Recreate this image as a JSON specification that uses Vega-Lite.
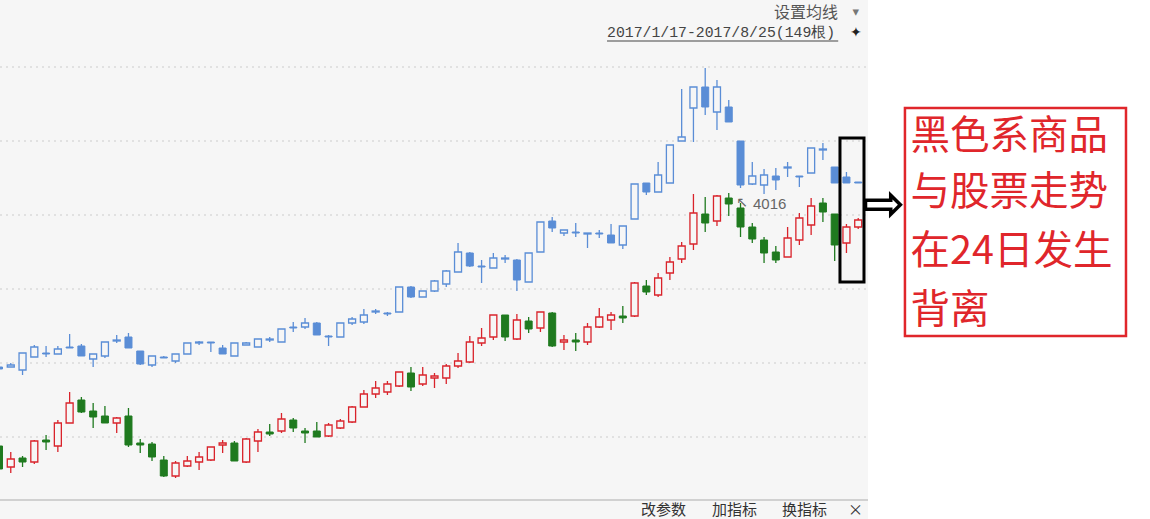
{
"$schema": "https://vega.github.io/schema/vega-lite/v6.json",
"width": 1150, "height": 519, "padding": 0, "autosize": {"type": "none"},
"background": "#ffffff",
"config": {"view": {"stroke": null}},
"datasets": {"k": [
{"i":0,"s":"B","d":"down","o":73,"h":75,"l":48,"c":50},
{"i":1,"s":"B","d":"up","o":52,"h":67,"l":46,"c":60},
{"i":2,"s":"B","d":"down","o":61,"h":63,"l":52,"c":57},
{"i":3,"s":"B","d":"up","o":57,"h":79,"l":55,"c":78},
{"i":4,"s":"B","d":"down","o":79,"h":84,"l":69,"c":77},
{"i":5,"s":"B","d":"up","o":73,"h":99,"l":67,"c":96},
{"i":6,"s":"B","d":"up","o":96,"h":127,"l":96,"c":116},
{"i":7,"s":"B","d":"down","o":119,"h":122,"l":106,"c":107},
{"i":8,"s":"B","d":"down","o":108,"h":116,"l":91,"c":102},
{"i":9,"s":"B","d":"down","o":103,"h":113,"l":96,"c":96},
{"i":10,"s":"B","d":"up","o":96,"h":102,"l":86,"c":101},
{"i":11,"s":"B","d":"down","o":103,"h":111,"l":72,"c":74},
{"i":12,"s":"B","d":"down","o":76,"h":80,"l":66,"c":74},
{"i":13,"s":"B","d":"down","o":75,"h":77,"l":58,"c":62},
{"i":14,"s":"B","d":"down","o":59,"h":63,"l":42,"c":43},
{"i":15,"s":"B","d":"up","o":43,"h":58,"l":41,"c":56},
{"i":16,"s":"B","d":"up","o":53,"h":63,"l":52,"c":58},
{"i":17,"s":"B","d":"up","o":57,"h":67,"l":49,"c":62},
{"i":18,"s":"B","d":"up","o":59,"h":72,"l":58,"c":72},
{"i":19,"s":"B","d":"up","o":74,"h":79,"l":66,"c":76},
{"i":20,"s":"B","d":"down","o":76,"h":78,"l":58,"c":58},
{"i":21,"s":"B","d":"up","o":57,"h":81,"l":56,"c":80},
{"i":22,"s":"B","d":"up","o":78,"h":90,"l":67,"c":87},
{"i":23,"s":"B","d":"down","o":87,"h":95,"l":83,"c":85},
{"i":24,"s":"B","d":"up","o":88,"h":106,"l":86,"c":100},
{"i":25,"s":"B","d":"down","o":99,"h":101,"l":87,"c":91},
{"i":26,"s":"B","d":"down","o":88,"h":91,"l":76,"c":86},
{"i":27,"s":"B","d":"down","o":88,"h":97,"l":82,"c":82},
{"i":28,"s":"B","d":"up","o":83,"h":96,"l":82,"c":94},
{"i":29,"s":"B","d":"up","o":91,"h":100,"l":90,"c":98},
{"i":30,"s":"B","d":"up","o":97,"h":113,"l":96,"c":112},
{"i":31,"s":"B","d":"up","o":112,"h":129,"l":112,"c":125},
{"i":32,"s":"B","d":"up","o":125,"h":138,"l":121,"c":131},
{"i":33,"s":"B","d":"up","o":127,"h":138,"l":124,"c":135},
{"i":34,"s":"B","d":"up","o":133,"h":147,"l":132,"c":147},
{"i":35,"s":"B","d":"down","o":146,"h":152,"l":128,"c":132},
{"i":36,"s":"B","d":"up","o":135,"h":152,"l":133,"c":144},
{"i":37,"s":"B","d":"up","o":141,"h":146,"l":131,"c":143},
{"i":38,"s":"B","d":"up","o":141,"h":155,"l":135,"c":153},
{"i":39,"s":"B","d":"up","o":153,"h":166,"l":151,"c":158},
{"i":40,"s":"B","d":"up","o":157,"h":183,"l":156,"c":177},
{"i":41,"s":"B","d":"up","o":176,"h":191,"l":173,"c":181},
{"i":42,"s":"B","d":"up","o":182,"h":204,"l":179,"c":204},
{"i":43,"s":"B","d":"down","o":204,"h":204,"l":178,"c":182},
{"i":44,"s":"B","d":"up","o":180,"h":205,"l":179,"c":199},
{"i":45,"s":"B","d":"down","o":198,"h":202,"l":186,"c":190},
{"i":46,"s":"B","d":"up","o":191,"h":207,"l":187,"c":207},
{"i":47,"s":"B","d":"down","o":206,"h":207,"l":172,"c":173},
{"i":48,"s":"B","d":"up","o":177,"h":184,"l":169,"c":179},
{"i":49,"s":"B","d":"down","o":179,"h":186,"l":168,"c":177},
{"i":50,"s":"B","d":"up","o":177,"h":196,"l":174,"c":192},
{"i":51,"s":"B","d":"up","o":192,"h":211,"l":191,"c":202},
{"i":52,"s":"B","d":"up","o":199,"h":207,"l":189,"c":204},
{"i":53,"s":"B","d":"down","o":203,"h":213,"l":196,"c":201},
{"i":54,"s":"B","d":"up","o":203,"h":237,"l":202,"c":236},
{"i":55,"s":"B","d":"down","o":233,"h":239,"l":224,"c":227},
{"i":56,"s":"B","d":"up","o":224,"h":246,"l":222,"c":241},
{"i":57,"s":"B","d":"up","o":246,"h":262,"l":239,"c":257},
{"i":58,"s":"B","d":"up","o":260,"h":277,"l":256,"c":273},
{"i":59,"s":"B","d":"up","o":275,"h":325,"l":269,"c":306},
{"i":60,"s":"B","d":"down","o":305,"h":322,"l":287,"c":296},
{"i":61,"s":"B","d":"up","o":298,"h":324,"l":293,"c":323},
{"i":62,"s":"B","d":"down","o":321,"h":326,"l":303,"c":315},
{"i":63,"s":"B","d":"down","o":311,"h":316,"l":282,"c":292},
{"i":64,"s":"B","d":"down","o":292,"h":296,"l":276,"c":280},
{"i":65,"s":"B","d":"down","o":279,"h":282,"l":256,"c":266},
{"i":66,"s":"B","d":"down","o":267,"h":273,"l":256,"c":259},
{"i":67,"s":"B","d":"up","o":262,"h":292,"l":262,"c":281},
{"i":68,"s":"B","d":"up","o":279,"h":306,"l":274,"c":301},
{"i":69,"s":"B","d":"up","o":294,"h":321,"l":284,"c":313},
{"i":70,"s":"B","d":"down","o":316,"h":321,"l":297,"c":307},
{"i":71,"s":"B","d":"down","o":305,"h":305,"l":258,"c":274},
{"i":72,"s":"B","d":"up","o":276,"h":295,"l":266,"c":292},
{"i":73,"s":"B","d":"up","o":292,"h":301,"l":290,"c":299},
{"i":0,"s":"A","d":"down","o":152,"h":154,"l":146,"c":150},
{"i":1,"s":"A","d":"up","o":152,"h":156,"l":152,"c":154},
{"i":2,"s":"A","d":"up","o":149,"h":166,"l":144,"c":166},
{"i":3,"s":"A","d":"up","o":162,"h":174,"l":162,"c":172},
{"i":4,"s":"A","d":"down","o":166,"h":173,"l":162,"c":165},
{"i":5,"s":"A","d":"up","o":165,"h":173,"l":165,"c":170},
{"i":6,"s":"A","d":"down","o":172,"h":185,"l":171,"c":171},
{"i":7,"s":"A","d":"down","o":173,"h":175,"l":163,"c":163},
{"i":8,"s":"A","d":"up","o":160,"h":165,"l":152,"c":165},
{"i":9,"s":"A","d":"up","o":163,"h":177,"l":161,"c":177},
{"i":10,"s":"A","d":"up","o":178,"h":184,"l":176,"c":179},
{"i":11,"s":"A","d":"down","o":182,"h":186,"l":171,"c":171},
{"i":12,"s":"A","d":"down","o":168,"h":168,"l":154,"c":155},
{"i":13,"s":"A","d":"up","o":154,"h":163,"l":152,"c":163},
{"i":14,"s":"A","d":"down","o":162,"h":163,"l":161,"c":161},
{"i":15,"s":"A","d":"up","o":158,"h":165,"l":156,"c":165},
{"i":16,"s":"A","d":"up","o":165,"h":176,"l":165,"c":176},
{"i":17,"s":"A","d":"up","o":176,"h":178,"l":174,"c":177},
{"i":18,"s":"A","d":"down","o":177,"h":177,"l":167,"c":176},
{"i":19,"s":"A","d":"down","o":171,"h":174,"l":165,"c":165},
{"i":20,"s":"A","d":"up","o":163,"h":176,"l":163,"c":176},
{"i":21,"s":"A","d":"up","o":174,"h":177,"l":174,"c":176},
{"i":22,"s":"A","d":"up","o":172,"h":180,"l":172,"c":180},
{"i":23,"s":"A","d":"up","o":179,"h":182,"l":177,"c":180},
{"i":24,"s":"A","d":"up","o":177,"h":190,"l":177,"c":190},
{"i":25,"s":"A","d":"down","o":192,"h":197,"l":187,"c":191},
{"i":26,"s":"A","d":"up","o":192,"h":201,"l":190,"c":196},
{"i":27,"s":"A","d":"down","o":196,"h":197,"l":184,"c":184},
{"i":28,"s":"A","d":"down","o":183,"h":184,"l":173,"c":182},
{"i":29,"s":"A","d":"up","o":182,"h":196,"l":182,"c":196},
{"i":30,"s":"A","d":"up","o":196,"h":202,"l":194,"c":200},
{"i":31,"s":"A","d":"up","o":197,"h":210,"l":195,"c":204},
{"i":32,"s":"A","d":"up","o":207,"h":210,"l":205,"c":208},
{"i":33,"s":"A","d":"down","o":206,"h":207,"l":203,"c":205},
{"i":34,"s":"A","d":"up","o":207,"h":232,"l":207,"c":232},
{"i":35,"s":"A","d":"down","o":232,"h":233,"l":221,"c":222},
{"i":36,"s":"A","d":"up","o":222,"h":228,"l":222,"c":228},
{"i":37,"s":"A","d":"up","o":228,"h":239,"l":227,"c":238},
{"i":38,"s":"A","d":"up","o":235,"h":249,"l":232,"c":248},
{"i":39,"s":"A","d":"up","o":247,"h":276,"l":247,"c":267},
{"i":40,"s":"A","d":"down","o":266,"h":267,"l":252,"c":253},
{"i":41,"s":"A","d":"down","o":253,"h":259,"l":236,"c":252},
{"i":42,"s":"A","d":"up","o":251,"h":266,"l":251,"c":261},
{"i":43,"s":"A","d":"up","o":260,"h":264,"l":256,"c":261},
{"i":44,"s":"A","d":"down","o":259,"h":260,"l":228,"c":239},
{"i":45,"s":"A","d":"up","o":237,"h":266,"l":237,"c":266},
{"i":46,"s":"A","d":"up","o":267,"h":297,"l":267,"c":297},
{"i":47,"s":"A","d":"down","o":298,"h":302,"l":287,"c":291},
{"i":48,"s":"A","d":"up","o":286,"h":289,"l":283,"c":289},
{"i":49,"s":"A","d":"down","o":287,"h":296,"l":282,"c":286},
{"i":50,"s":"A","d":"up","o":285,"h":286,"l":271,"c":286},
{"i":51,"s":"A","d":"down","o":286,"h":289,"l":281,"c":285},
{"i":52,"s":"A","d":"down","o":284,"h":295,"l":276,"c":276},
{"i":53,"s":"A","d":"up","o":274,"h":293,"l":270,"c":293},
{"i":54,"s":"A","d":"up","o":300,"h":335,"l":300,"c":335},
{"i":55,"s":"A","d":"down","o":336,"h":336,"l":324,"c":327},
{"i":56,"s":"A","d":"up","o":327,"h":357,"l":327,"c":344},
{"i":57,"s":"A","d":"up","o":336,"h":374,"l":336,"c":374},
{"i":58,"s":"A","d":"up","o":378,"h":430,"l":378,"c":382},
{"i":59,"s":"A","d":"up","o":411,"h":432,"l":377,"c":432},
{"i":60,"s":"A","d":"down","o":432,"h":451,"l":404,"c":412},
{"i":61,"s":"A","d":"up","o":407,"h":439,"l":389,"c":432},
{"i":62,"s":"A","d":"down","o":412,"h":419,"l":397,"c":397},
{"i":63,"s":"A","d":"down","o":378,"h":378,"l":331,"c":334},
{"i":64,"s":"A","d":"up","o":335,"h":357,"l":334,"c":343},
{"i":65,"s":"A","d":"up","o":334,"h":350,"l":325,"c":344},
{"i":66,"s":"A","d":"down","o":343,"h":351,"l":329,"c":339},
{"i":67,"s":"A","d":"up","o":351,"h":357,"l":342,"c":352},
{"i":68,"s":"A","d":"down","o":343,"h":343,"l":332,"c":342},
{"i":69,"s":"A","d":"up","o":346,"h":371,"l":346,"c":371},
{"i":70,"s":"A","d":"up","o":369,"h":376,"l":359,"c":370},
{"i":71,"s":"A","d":"down","o":352,"h":352,"l":336,"c":336},
{"i":72,"s":"A","d":"down","o":342,"h":347,"l":336,"c":336},
{"i":73,"s":"A","d":"down","o":337,"h":337,"l":336,"c":336}
],
"one": [{"n": 1}],
"grid": [{"g": 82}, {"g": 156}, {"g": 230}, {"g": 304}, {"g": 378}, {"g": 452}],
"tool": [{"t": "改参数", "p": 54.54}, {"t": "加指标", "p": 60.58}, {"t": "换指标", "p": 66.52}, {"t": "×", "p": 72.13}],
"note": [{"t": "黑色系商品", "v": 382}, {"t": "与股票走势", "v": 326}, {"t": "在24日发生", "v": 267}, {"t": "背离", "v": 208}]
},
"layer": [
  {"data": {"name": "one"}, "mark": {"type": "rect", "fill": "#f6f6f6"},
   "encoding": {
     "x": {"datum": 0.085, "type": "quantitative", "scale": {"domain": [0.085, 97.79], "nice": false, "zero": false, "padding": 0}, "axis": null},
     "x2": {"datum": 73.83},
     "y": {"datum": 0, "type": "quantitative", "scale": {"domain": [0, 519], "nice": false, "zero": false, "padding": 0}, "axis": null},
     "y2": {"datum": 519}}},
  {"data": {"name": "grid"},
   "mark": {"type": "rule", "stroke": "#cccccc", "strokeWidth": 1, "strokeDash": [2, 4]},
   "encoding": {"x": {"datum": 0.085, "type": "quantitative"}, "x2": {"datum": 73.83}, "y": {"field": "g", "type": "quantitative"}}},
  {"data": {"name": "one"},
   "mark": {"type": "rule", "stroke": "#c4c4c4", "strokeWidth": 1.5},
   "encoding": {"x": {"datum": 0.085, "type": "quantitative"}, "x2": {"datum": 73.83}, "y": {"datum": 19, "type": "quantitative"}}},
  {"data": {"name": "k"}, "transform": [{"filter": "datum.s == 'A'"}],
   "mark": {"type": "rule", "stroke": "#5a8dd6", "strokeWidth": 1.3},
   "encoding": {"x": {"field": "i", "type": "quantitative"}, "y": {"field": "l", "type": "quantitative"}, "y2": {"field": "h"}}},
  {"data": {"name": "k"}, "transform": [{"filter": "datum.s == 'A' && datum.d == 'up'"}],
   "mark": {"type": "bar", "width": 7, "fill": "#f6f6f6", "stroke": "#5a8dd6", "strokeWidth": 1.3},
   "encoding": {"x": {"field": "i", "type": "quantitative"}, "y": {"field": "o", "type": "quantitative"}, "y2": {"field": "c"}}},
  {"data": {"name": "k"}, "transform": [{"filter": "datum.s == 'A' && datum.d == 'down'"}],
   "mark": {"type": "bar", "width": 7, "fill": "#5a8dd6", "stroke": "#5a8dd6", "strokeWidth": 1},
   "encoding": {"x": {"field": "i", "type": "quantitative"}, "y": {"field": "o", "type": "quantitative"}, "y2": {"field": "c"}}},
  {"data": {"name": "k"}, "transform": [{"filter": "datum.s == 'B' && datum.d == 'up'"}],
   "mark": {"type": "rule", "stroke": "#d9232b", "strokeWidth": 1.3},
   "encoding": {"x": {"field": "i", "type": "quantitative"}, "y": {"field": "l", "type": "quantitative"}, "y2": {"field": "h"}}},
  {"data": {"name": "k"}, "transform": [{"filter": "datum.s == 'B' && datum.d == 'down'"}],
   "mark": {"type": "rule", "stroke": "#1f7a1f", "strokeWidth": 1.3},
   "encoding": {"x": {"field": "i", "type": "quantitative"}, "y": {"field": "l", "type": "quantitative"}, "y2": {"field": "h"}}},
  {"data": {"name": "k"}, "transform": [{"filter": "datum.s == 'B' && datum.d == 'up'"}],
   "mark": {"type": "bar", "width": 7, "fill": "#f6f6f6", "stroke": "#d9232b", "strokeWidth": 1.3},
   "encoding": {"x": {"field": "i", "type": "quantitative"}, "y": {"field": "o", "type": "quantitative"}, "y2": {"field": "c"}}},
  {"data": {"name": "k"}, "transform": [{"filter": "datum.s == 'B' && datum.d == 'down'"}],
   "mark": {"type": "bar", "width": 7, "fill": "#1f7a1f", "stroke": "#1f7a1f", "strokeWidth": 1},
   "encoding": {"x": {"field": "i", "type": "quantitative"}, "y": {"field": "o", "type": "quantitative"}, "y2": {"field": "c"}}},
  {"data": {"name": "one"}, "mark": {"type": "text", "text": "↖", "font": "DejaVu Sans", "fontSize": 14, "fill": "#666666", "align": "center", "baseline": "middle"},
   "encoding": {"x": {"datum": 63.13, "type": "quantitative"}, "y": {"datum": 316, "type": "quantitative"}}},
  {"data": {"name": "one"}, "mark": {"type": "text", "text": "4016", "font": "Liberation Sans", "fontSize": 15, "fill": "#666666", "align": "left", "baseline": "middle"},
   "encoding": {"x": {"datum": 64.06, "type": "quantitative"}, "y": {"datum": 315, "type": "quantitative"}}},
  {"data": {"name": "one"}, "mark": {"type": "text", "text": "设置均线", "font": "Noto Sans CJK SC", "fontSize": 16, "fill": "#555555", "align": "right", "baseline": "middle"},
   "encoding": {"x": {"datum": 71.28, "type": "quantitative"}, "y": {"datum": 506, "type": "quantitative"}}},
  {"data": {"name": "one"}, "mark": {"type": "text", "text": "▾", "font": "DejaVu Sans", "fontSize": 13, "fill": "#777777", "align": "center", "baseline": "middle"},
   "encoding": {"x": {"datum": 72.8, "type": "quantitative"}, "y": {"datum": 507, "type": "quantitative"}}},
  {"data": {"name": "one"}, "mark": {"type": "text", "text": "2017/1/17-2017/8/25(149根)", "font": "Liberation Mono", "fontSize": 14.8, "fill": "#444444", "align": "left", "baseline": "middle"},
   "encoding": {"x": {"datum": 51.66, "type": "quantitative"}, "y": {"datum": 486, "type": "quantitative"}}},
  {"data": {"name": "one"}, "mark": {"type": "rule", "stroke": "#444444", "strokeWidth": 1},
   "encoding": {"x": {"datum": 51.66, "type": "quantitative"}, "x2": {"datum": 71.3}, "y": {"datum": 478, "type": "quantitative"}}},
  {"data": {"name": "one"}, "mark": {"type": "text", "text": "✦", "font": "DejaVu Sans", "fontSize": 14, "fill": "#222222", "align": "center", "baseline": "middle"},
   "encoding": {"x": {"datum": 72.8, "type": "quantitative"}, "y": {"datum": 486, "type": "quantitative"}}},
  {"data": {"name": "tool"},
   "mark": {"type": "text", "font": "Noto Sans CJK SC", "fontSize": 15, "fill": "#333333", "align": "left", "baseline": "middle"},
   "encoding": {"x": {"field": "p", "type": "quantitative"}, "y": {"datum": 9, "type": "quantitative"}, "text": {"field": "t"}}},
  {"data": {"name": "one"}, "mark": {"type": "rect", "fill": "#000000", "fillOpacity": 0, "stroke": "#000000", "strokeWidth": 3},
   "encoding": {"x": {"datum": 71.45, "type": "quantitative"}, "x2": {"datum": 73.49}, "y": {"datum": 381, "type": "quantitative"}, "y2": {"datum": 237}}},
  {"data": {"name": "one"}, "mark": {"type": "text", "text": "⇨", "font": "DejaVu Sans", "fontSize": 52, "fontWeight": "bold", "fill": "#000000", "align": "center", "baseline": "middle"},
   "encoding": {"x": {"datum": 75.15, "type": "quantitative"}, "y": {"datum": 314, "type": "quantitative"}}},
  {"data": {"name": "one"}, "mark": {"type": "rect", "fill": "#ffffff", "stroke": "#e0262b", "strokeWidth": 2.5},
   "encoding": {"x": {"datum": 76.97, "type": "quantitative"}, "x2": {"datum": 95.75}, "y": {"datum": 411, "type": "quantitative"}, "y2": {"datum": 183}}},
  {"data": {"name": "note"},
   "mark": {"type": "text", "font": "Noto Sans CJK SC", "fontSize": 39.5, "fill": "#e0262b", "align": "left", "baseline": "middle"},
   "encoding": {"x": {"datum": 77.45, "type": "quantitative"}, "y": {"field": "v", "type": "quantitative"}, "text": {"field": "t"}}}
]
}
